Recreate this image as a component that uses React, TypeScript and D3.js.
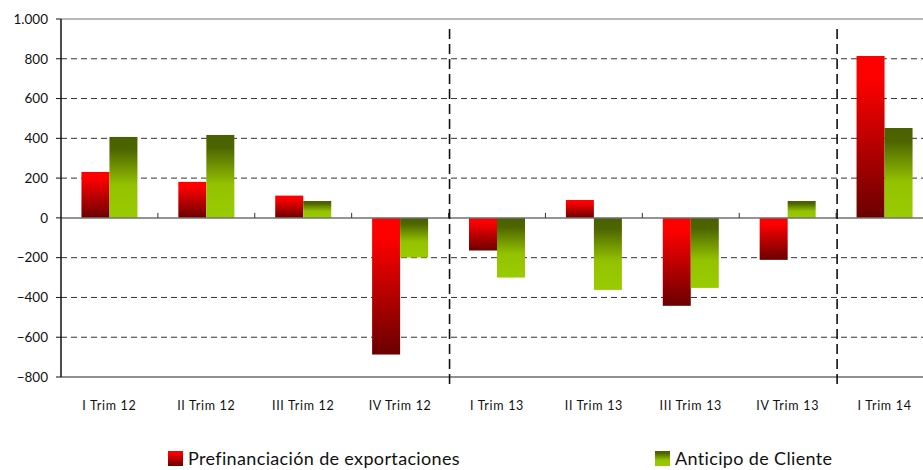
import React, { useEffect, useRef } from 'react';
import * as d3 from 'd3';

const categories = [
  'I Trim 12', 'II Trim 12', 'III Trim 12', 'IV Trim 12',
  'I Trim 13', 'II Trim 13', 'III Trim 13', 'IV Trim 13', 'I Trim 14',
];
const prefinanciacion = [231, 181, 112, -687, -164, 90, -442, -211, 814];
const anticipo = [407, 417, 85, -199, -300, -362, -352, 85, 452];
const seriesNames = ['Prefinanciación de exportaciones', 'Anticipo de Cliente'];
const yTicks = [1000, 800, 600, 400, 200, 0, -200, -400, -600, -800];
const separatorsAfter = ['IV Trim 12', 'IV Trim 13'];

function App() {
  const ref = useRef<SVGSVGElement>(null);

  useEffect(() => {
    const svg = d3.select(ref.current);
    svg.selectAll('*').remove();

    const left = 61, right = 933, top = 19, bottom = 377;
    const font = 'Lato, "DejaVu Sans", sans-serif';

    const defs = svg.append('defs');
    const red = defs.append('linearGradient').attr('id', 'gRed')
      .attr('x1', 0).attr('y1', 0).attr('x2', 0).attr('y2', 1);
    red.append('stop').attr('offset', '0').attr('stop-color', '#ff0000');
    red.append('stop').attr('offset', '0.15').attr('stop-color', '#fc0000');
    red.append('stop').attr('offset', '1').attr('stop-color', '#6a0000');
    const green = defs.append('linearGradient').attr('id', 'gGreen')
      .attr('x1', 0).attr('y1', 0).attr('x2', 0).attr('y2', 1);
    green.append('stop').attr('offset', '0').attr('stop-color', '#4a6000');
    green.append('stop').attr('offset', '0.15').attr('stop-color', '#4d6500');
    green.append('stop').attr('offset', '0.6').attr('stop-color', '#94c200');
    green.append('stop').attr('offset', '1').attr('stop-color', '#99cc00');

    const x0 = d3.scaleBand().domain(categories).range([left, right]);
    const x1 = d3.scaleBand().domain(seriesNames).range([0, x0.bandwidth()]).paddingOuter(0.73);
    const y = d3.scaleLinear().domain([-800, 1000]).range([bottom, top]);

    // gridlines
    svg.append('g').selectAll('line')
      .data(yTicks.filter(d => d !== 0 && d !== 1000 && d !== -800))
      .enter().append('line')
      .attr('x1', left).attr('x2', 923)
      .attr('y1', d => y(d)).attr('y2', d => y(d))
      .attr('stroke', '#333').attr('stroke-width', 1)
      .attr('stroke-dasharray', '6,4');

    // top & bottom borders
    svg.append('line').attr('x1', left).attr('x2', 923).attr('y1', y(1000)).attr('y2', y(1000))
      .attr('stroke', '#a0a0a0').attr('stroke-width', 1.5);
    svg.append('line').attr('x1', left).attr('x2', 923).attr('y1', y(-800)).attr('y2', y(-800))
      .attr('stroke', '#909090').attr('stroke-width', 2);

    // bars
    const data = [prefinanciacion, anticipo];
    const fills = ['url(#gRed)', 'url(#gGreen)'];
    data.forEach((vals, si) => {
      svg.append('g').selectAll('rect')
        .data(vals)
        .enter().append('rect')
        .attr('x', (d, i) => (x0(categories[i]) as number) + (x1(seriesNames[si]) as number))
        .attr('width', x1.bandwidth())
        .attr('y', d => y(Math.max(0, d)))
        .attr('height', d => Math.abs(y(d) - y(0)))
        .attr('fill', fills[si]);
    });

    // zero line with category ticks
    svg.append('line').attr('x1', left).attr('x2', 923).attr('y1', y(0)).attr('y2', y(0))
      .attr('stroke', '#707070').attr('stroke-width', 1.5);
    svg.append('g').selectAll('line')
      .data(categories.slice(1))
      .enter().append('line')
      .attr('x1', d => x0(d) as number).attr('x2', d => x0(d) as number)
      .attr('y1', y(0) - 5).attr('y2', y(0))
      .attr('stroke', '#333').attr('stroke-width', 1);

    // left axis
    svg.append('line').attr('x1', left).attr('x2', left).attr('y1', top).attr('y2', bottom)
      .attr('stroke', '#111').attr('stroke-width', 1.5);
    const yg = svg.append('g');
    yg.selectAll('line').data(yTicks).enter().append('line')
      .attr('x1', left - 5).attr('x2', left).attr('y1', d => y(d)).attr('y2', d => y(d))
      .attr('stroke', '#111');
    yg.selectAll('text').data(yTicks).enter().append('text')
      .attr('x', 48).attr('y', d => y(d)).attr('dy', '0.35em')
      .attr('text-anchor', 'end')
      .attr('font-family', font).attr('font-size', 13.5).attr('fill', '#111')
      .text(d => d3.format(',')(d).replace(/,/g, '.'));

    // separators
    svg.append('g').selectAll('line')
      .data(separatorsAfter)
      .enter().append('line')
      .attr('x1', d => (x0(d) as number) + x0.bandwidth() + 1)
      .attr('x2', d => (x0(d) as number) + x0.bandwidth() + 1)
      .attr('y1', 29).attr('y2', 389)
      .attr('stroke', '#111').attr('stroke-width', 1.6)
      .attr('stroke-dasharray', '10,5');

    // category labels
    svg.append('g').selectAll('text')
      .data(categories)
      .enter().append('text')
      .attr('x', d => (x0(d) as number) + x0.bandwidth() / 2)
      .attr('y', 406).attr('dy', '0.35em')
      .attr('text-anchor', 'middle')
      .attr('font-family', font).attr('font-size', 12.5).attr('letter-spacing', 0.7)
      .attr('fill', '#111')
      .text(d => d);

    // legend
    const legendX = [168, 655];
    seriesNames.forEach((name, i) => {
      svg.append('rect').attr('x', legendX[i]).attr('y', 451).attr('width', 15).attr('height', 15)
        .attr('fill', fills[i]);
      svg.append('text').attr('x', legendX[i] + 20).attr('y', 459).attr('dy', '0.35em')
        .attr('font-family', font).attr('font-size', 18).attr('letter-spacing', 0.35)
        .attr('fill', '#111')
        .text(name);
    });
  }, []);

  return (
    <svg ref={ref} width={923} height={470}
      style={{ position: 'absolute', left: 0, top: 0, background: '#fff' }} />
  );
}

export default App;
